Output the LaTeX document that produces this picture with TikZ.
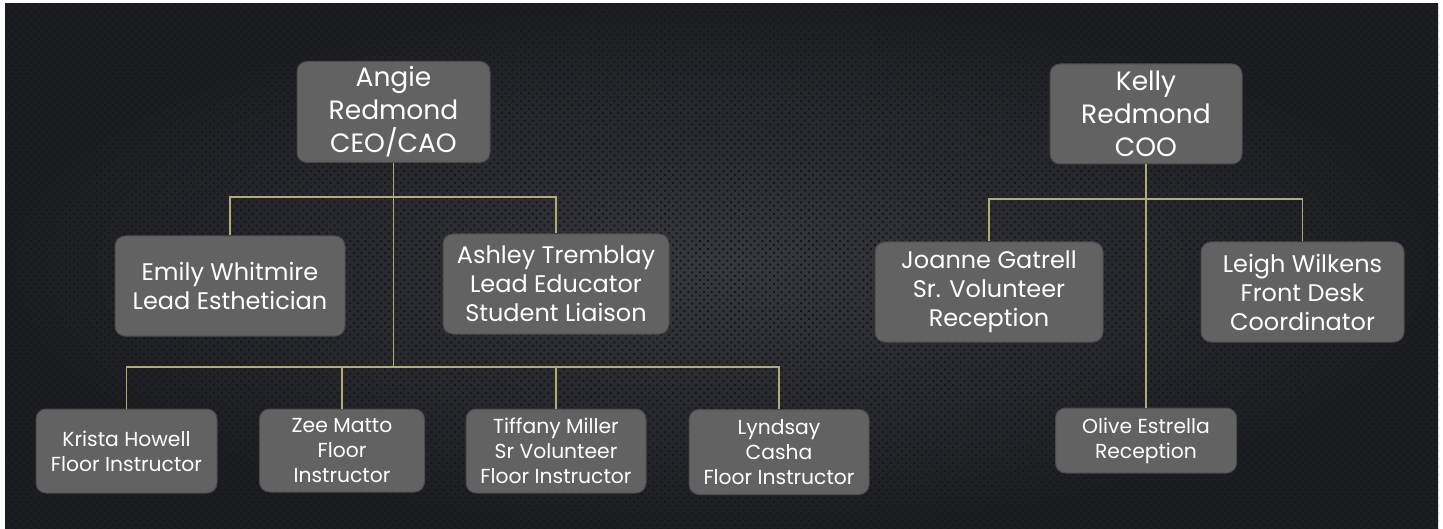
\documentclass[tikz,border=0pt]{standalone}
\usepackage{fontspec}
\setmainfont{Poppins}
\usetikzlibrary{patterns.meta}
\definecolor{bgin}{HTML}{36383D}
\definecolor{bgout}{HTML}{1C1D21}
\definecolor{dotcol}{HTML}{16171A}
\definecolor{boxfill}{HTML}{626262}
\definecolor{boxedge}{HTML}{4A4A4A}
\definecolor{linkcol}{HTML}{B2AC72}

\begin{document}
\begin{tikzpicture}[x=1pt,y=-1pt]
  \tikzset{role/.style={draw=boxedge,line width=1pt,fill=boxfill,rounded corners=10pt,text=white,align=center,inner sep=0pt},
    top/.style={role,font=\fontsize{26.5}{33}\selectfont},
    mid/.style={role,font=\fontsize{24}{29}\selectfont},
    low/.style={role,font=\fontsize{20.3}{25}\selectfont},
    link/.style={draw=linkcol,line width=1.2pt}};
  \useasboundingbox (0,0) rectangle (1443,529);
  \fill[white] (0,0) rectangle (1443,529);
  \shade[inner color=bgin,outer color=bgout] (5,4) rectangle (1438,529);
  \fill[pattern={Dots[angle=45,distance=5.5pt,radius=1.4pt]},pattern color=dotcol] (5,4) rectangle (1438,529);
  % left tree
  \node[top,minimum width=193pt,minimum height=101pt] (AR) at (393.5,112) {Angie\\Redmond\\CEO/CAO};
  \node[mid,minimum width=230pt,minimum height=100pt] (EW) at (230,286) {Emily Whitmire\\Lead Esthetician};
  \node[mid,minimum width=226pt,minimum height=100pt] (AT) at (556,284) {Ashley Tremblay\\Lead Educator\\Student Liaison};
  \node[low,minimum width=181pt,minimum height=84pt] (KH) at (126.5,451) {Krista Howell\\Floor Instructor};
  \node[low,minimum width=165pt,minimum height=83pt] (ZM) at (342,450.5) {Zee Matto\\Floor\\Instructor};
  \node[low,minimum width=180pt,minimum height=84pt] (TM) at (556,451) {Tiffany Miller\\Sr Volunteer\\Floor Instructor};
  \node[low,minimum width=180pt,minimum height=85pt] (LC) at (779,452) {Lyndsay\\Casha\\Floor Instructor};
  \coordinate (up) at (393.5,197);
  \coordinate (down) at (393.5,367);
  \draw[link] (AR) -- (down);
  \draw[link] (EW.north) |- (up) -| (AT.north);
  \draw[link] (KH.north) |- (down) -| (LC.north);
  \draw[link] (ZM.north) -- (ZM.north |- down);
  \draw[link] (TM.north) -- (TM.north |- down);
  % right tree
  \node[top,minimum width=192pt,minimum height=100pt] (KR) at (1146,114) {Kelly\\Redmond\\COO};
  \node[mid,minimum width=228pt,minimum height=100pt] (JG) at (989,292) {Joanne Gatrell\\Sr. Volunteer\\Reception};
  \node[mid,minimum width=203pt,minimum height=100pt] (LW) at (1302.5,292) {Leigh Wilkens\\Front Desk\\Coordinator};
  \node[low,minimum width=181pt,minimum height=65pt] (OE) at (1146,440.5) {Olive Estrella\\Reception};
  \coordinate (kbus) at (1146,199);
  \draw[link] (KR) -- (OE);
  \draw[link] (JG.north) |- (kbus) -| (LW.north);
\end{tikzpicture}
\end{document}
